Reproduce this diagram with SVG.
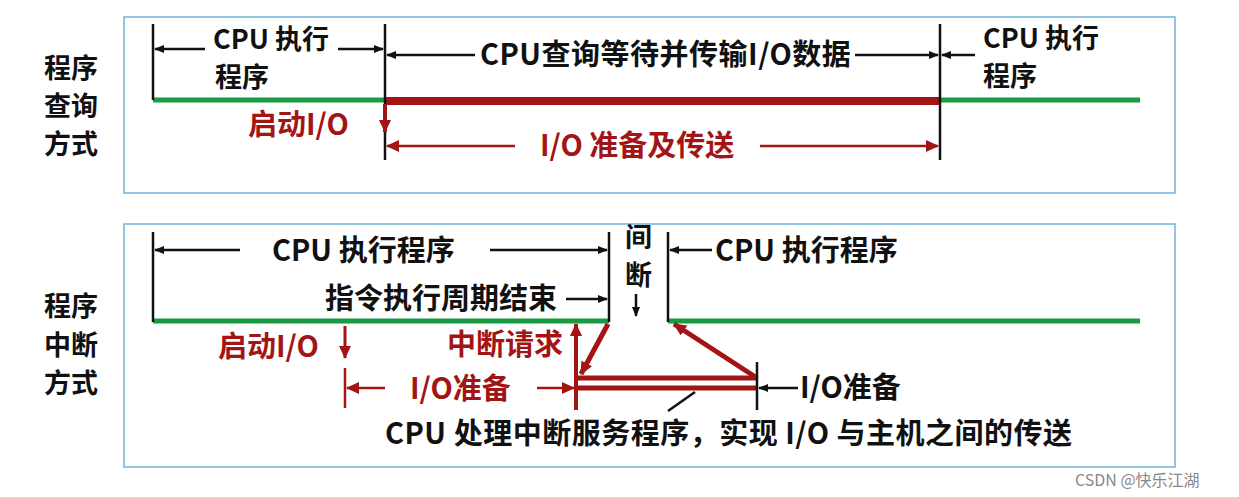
<svg xmlns="http://www.w3.org/2000/svg" width="1239" height="497" viewBox="0 0 1239 497">
<style>
.t{font-family:"Noto Sans CJK SC","Liberation Sans",sans-serif;font-size:29px;font-weight:bold;fill:#111}
.s{font-size:27px}
.r{fill:#a31515}
.box{fill:none;stroke:#6fb3dc;stroke-width:1.5}
.k{stroke:#111;stroke-width:2.5;fill:none}
.g{stroke:#1a9a45;stroke-width:5}
.rl{stroke:#a31515;fill:none}
</style>
<defs>
<marker id="ak" markerWidth="10" markerHeight="8" refX="9" refY="4" orient="auto" markerUnits="userSpaceOnUse"><path d="M0,0L10,4L0,8Z" fill="#111"/></marker>
<marker id="ar" markerWidth="14" markerHeight="12" refX="12" refY="6" orient="auto" markerUnits="userSpaceOnUse"><path d="M0,0L13,6L0,12Z" fill="#a31515"/></marker>
</defs>
<rect width="1239" height="497" fill="#fff"/>
<g id="box1"><rect class="box" x="124" y="17" width="1051" height="176"/></g>
<g id="box2"><rect class="box" x="124" y="224" width="1051" height="243"/></g>
<g id="labels">
<text class="t s" x="44" y="78">程序</text><text class="t s" x="44" y="116">查询</text><text class="t s" x="44" y="154">方式</text>
<text class="t s" x="44" y="316">程序</text><text class="t s" x="44" y="355">中断</text><text class="t s" x="44" y="393">方式</text>
</g>
<g id="connectors">
<line class="g" x1="153" y1="100" x2="385" y2="100"/>
<line x1="385" y1="101" x2="940" y2="101" stroke="#a31515" stroke-width="8"/>
<line class="g" x1="940" y1="100" x2="1140" y2="100"/>
<line class="k" x1="153" y1="24" x2="153" y2="100"/>
<line class="k" x1="385" y1="24" x2="385" y2="160"/>
<line class="k" x1="940" y1="24" x2="940" y2="160"/>
<line class="k" x1="205" y1="49" x2="155" y2="49" marker-end="url(#ak)"/>
<line class="k" x1="338" y1="49" x2="383" y2="49" marker-end="url(#ak)"/>
<line class="k" x1="475" y1="55" x2="387" y2="55" marker-end="url(#ak)"/>
<line class="k" x1="855" y1="55" x2="938" y2="55" marker-end="url(#ak)"/>
<line class="k" x1="975" y1="55" x2="942" y2="55" marker-end="url(#ak)"/>
<line class="rl" stroke-width="4" x1="385" y1="104" x2="385" y2="132" marker-end="url(#ar)"/>
<line class="rl" stroke-width="2.5" x1="515" y1="146" x2="387" y2="146" marker-end="url(#ar)"/>
<line class="rl" stroke-width="2.5" x1="760" y1="146" x2="938" y2="146" marker-end="url(#ar)"/>

<line class="g" x1="153" y1="321" x2="609" y2="321"/>
<line class="g" x1="668" y1="321" x2="1140" y2="321"/>
<line class="k" x1="153" y1="232" x2="153" y2="322"/>
<line class="k" x1="609" y1="232" x2="609" y2="322"/>
<line class="k" x1="668" y1="232" x2="668" y2="322"/>
<line class="k" x1="240" y1="250" x2="155" y2="250" marker-end="url(#ak)"/>
<line class="k" x1="490" y1="250" x2="607" y2="250" marker-end="url(#ak)"/>
<line class="k" x1="712" y1="250" x2="670" y2="250" marker-end="url(#ak)"/>
<line class="k" x1="566" y1="299" x2="607" y2="299" marker-end="url(#ak)"/>
<line class="k" x1="636" y1="294" x2="636" y2="316" marker-end="url(#ak)"/>
<line class="rl" stroke-width="3" x1="345" y1="326" x2="345" y2="358" marker-end="url(#ar)"/>
<line class="rl" stroke-width="2.5" x1="345" y1="368" x2="345" y2="408"/>
<line class="rl" stroke-width="2.5" x1="385" y1="388" x2="347" y2="388" marker-end="url(#ar)"/>
<line class="rl" stroke-width="2.5" x1="537" y1="388" x2="574" y2="388" marker-end="url(#ar)"/>
<line class="rl" stroke-width="4" x1="576" y1="410" x2="576" y2="324" marker-end="url(#ar)"/>
<line class="rl" stroke-width="5" x1="608" y1="324" x2="581" y2="374" marker-end="url(#ar)"/>
<line class="rl" stroke-width="5" x1="578" y1="378" x2="757" y2="378"/>
<line class="rl" stroke-width="5" x1="578" y1="388" x2="757" y2="388"/>
<line class="rl" stroke-width="5" x1="757" y1="378" x2="674" y2="324" marker-end="url(#ar)"/>
<line class="k" x1="757" y1="362" x2="757" y2="410"/>
<line class="k" x1="798" y1="388" x2="759" y2="388" marker-end="url(#ak)"/>
<line class="k" x1="695" y1="392" x2="668" y2="411"/>
</g>
<g id="texts">
<text class="t s" x="213" y="49">CPU 执行</text>
<text class="t s" x="215" y="87">程序</text>
<text class="t" x="480" y="65" letter-spacing="0.5">CPU查询等待并传输I/O数据</text>
<text class="t s" x="983" y="48">CPU 执行</text>
<text class="t s" x="983" y="86">程序</text>
<text class="t r" x="248" y="135">启动I/O</text>
<text class="t r" x="540" y="156">I/O 准备及传送</text>
<text class="t" x="272" y="261">CPU 执行程序</text>
<text class="t s" x="625" y="247">间</text>
<text class="t s" x="625" y="285">断</text>
<text class="t" x="715" y="261">CPU 执行程序</text>
<text class="t" x="325" y="309">指令执行周期结束</text>
<text class="t r" x="218" y="357">启动I/O</text>
<text class="t r" x="447" y="355">中断请求</text>
<text class="t r" x="410" y="399">I/O准备</text>
<text class="t" x="800" y="398">I/O准备</text>
<text class="t" x="385" y="444" letter-spacing="0.5">CPU 处理中断服务程序，实现 I/O 与主机之间的传送</text>
<text x="1075" y="486" style="font-family:'Noto Sans CJK SC',sans-serif;font-size:16px;fill:#888">CSDN @快乐江湖</text>
</g>
</svg>
